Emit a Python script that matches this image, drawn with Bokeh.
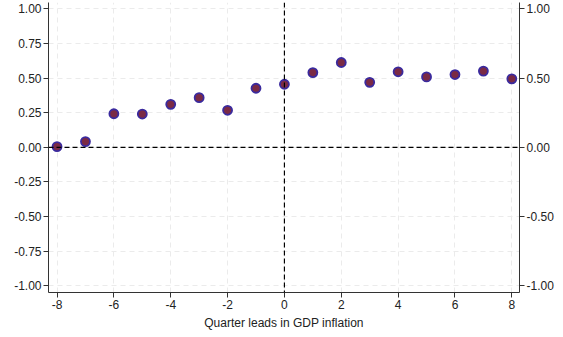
from bokeh.plotting import figure
from bokeh.models import FixedTicker, LinearAxis, Range1d, Span
from bokeh.embed import file_html
from bokeh.resources import INLINE

leads = [-8, -7, -6, -5, -4, -3, -2, -1, 0, 1, 2, 3, 4, 5, 6, 7, 8]
coef = [0.005, 0.041, 0.242, 0.240, 0.310, 0.358, 0.267, 0.426, 0.455,
        0.539, 0.612, 0.469, 0.545, 0.508, 0.525, 0.550, 0.494]
x_ticks = [-8, -6, -4, -2, 0, 2, 4, 6, 8]
y_ticks_left = [-1.0, -0.75, -0.5, -0.25, 0.0, 0.25, 0.5, 0.75, 1.0]
y_ticks_right = [-1.0, -0.5, 0.0, 0.5, 1.0]
x_label = "Quarter leads in GDP inflation"

FONT = "Liberation Sans"
AX = "#333333"
TXT = "#222222"

p = figure(frame_width=471, frame_height=290, output_backend="svg", toolbar_location=None,
           x_range=Range1d(-8.3, 8.27), y_range=Range1d(-1.048, 1.045),
           min_border_left=48, min_border_right=38, min_border_top=2, min_border_bottom=35)
p.outline_line_color = None
p.background_fill_color = "white"

for g in (p.xgrid, p.ygrid):
    g.grid_line_color = "#ebebeb"
    g.grid_line_dash = "5 4"
    g.grid_line_width = 1
p.xgrid.ticker = FixedTicker(ticks=x_ticks)
p.ygrid.ticker = FixedTicker(ticks=y_ticks_left)

def style_axis(ax):
    ax.axis_line_color = AX
    ax.major_tick_line_color = AX
    ax.major_tick_out = 5
    ax.major_tick_in = 0
    ax.minor_tick_line_color = None
    ax.major_label_text_font = FONT
    ax.major_label_text_font_size = "12px"
    ax.major_label_text_color = TXT
    ax.major_label_standoff = 2

def yfmt(v):
    return ("-" if v < 0 else "") + "%.2f" % abs(v)

xa = p.xaxis[0]
style_axis(xa)
xa.ticker = FixedTicker(ticks=x_ticks)
xa.major_label_overrides = {t: ("-" if t < 0 else "") + str(abs(t)) for t in x_ticks}
xa.axis_label = x_label
xa.axis_label_text_font = FONT
xa.axis_label_text_font_size = "12px"
xa.axis_label_text_font_style = "normal"
xa.axis_label_text_color = TXT
xa.axis_label_standoff = 4

ya = p.yaxis[0]
style_axis(ya)
ya.ticker = FixedTicker(ticks=y_ticks_left)
ya.major_label_overrides = {t: yfmt(t) for t in y_ticks_left}

right = LinearAxis(ticker=FixedTicker(ticks=y_ticks_right))
style_axis(right)
right.major_label_overrides = {t: yfmt(t) for t in y_ticks_right}
p.add_layout(right, "right")

p.add_layout(Span(location=0, dimension="width", line_color="black",
                  line_dash="5 3", line_width=1.2))
p.add_layout(Span(location=0, dimension="height", line_color="black",
                  line_dash="5 3", line_width=1.2))

p.scatter(leads, coef, size=9, fill_color="#7a2a45", line_color="#3a2a9e",
          line_width=1.8)

open("out.html", "w").write(file_html(p, INLINE))
